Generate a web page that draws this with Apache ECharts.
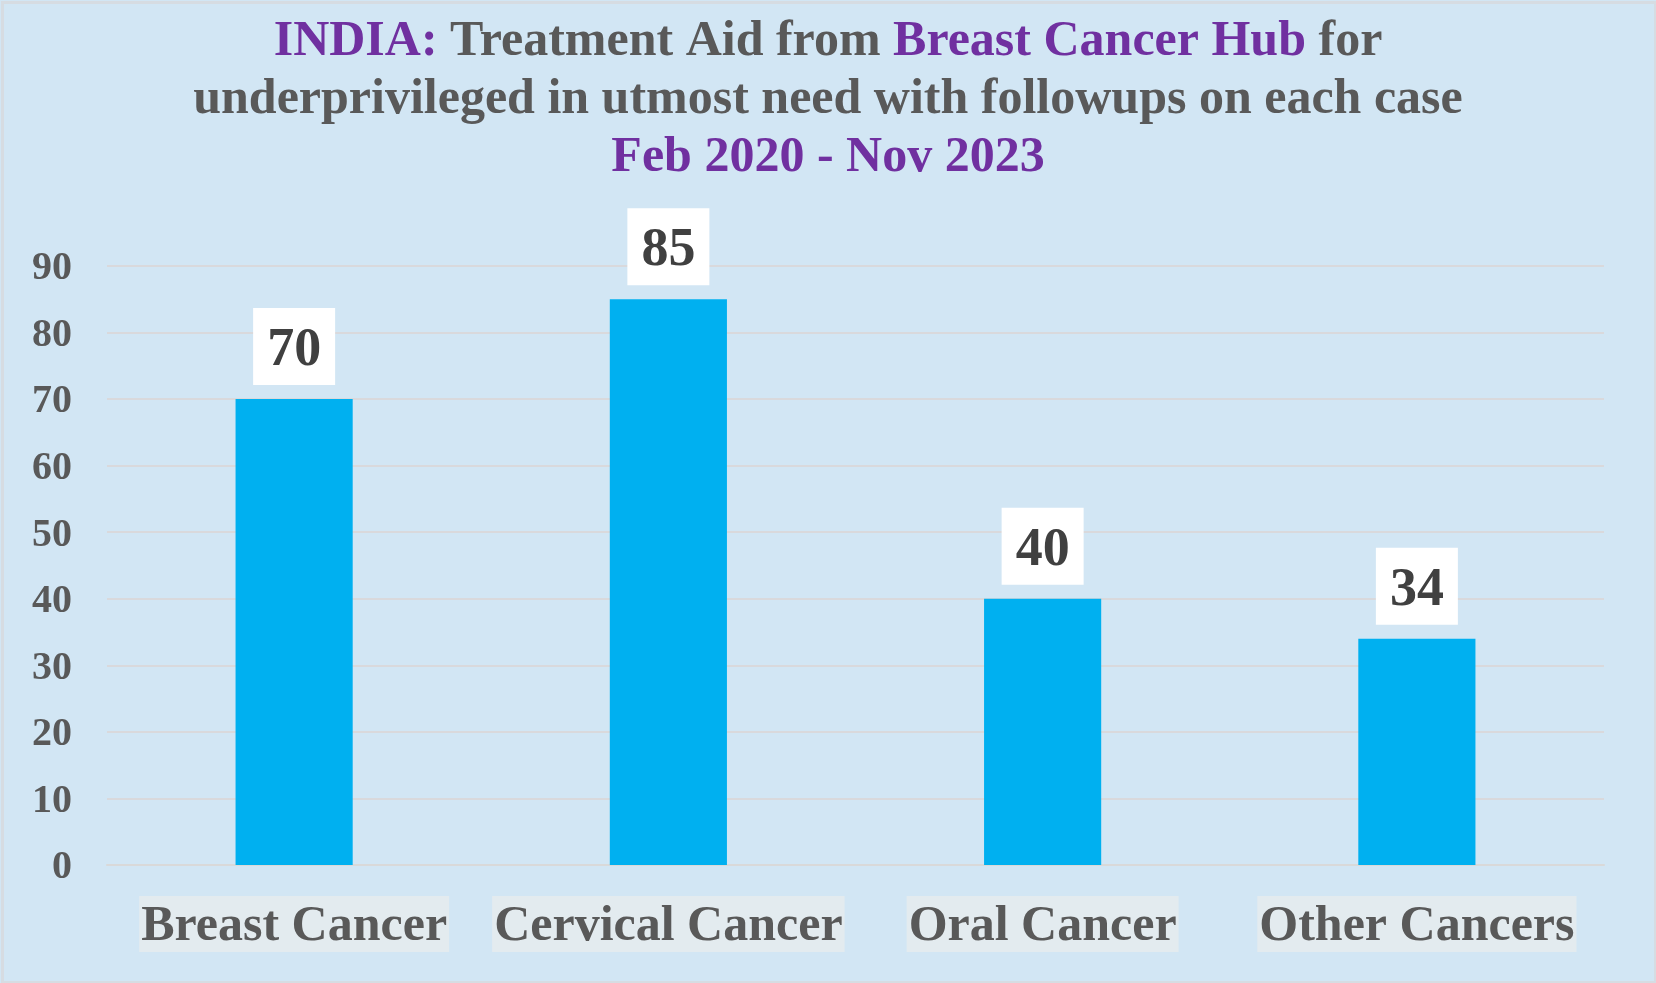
<!DOCTYPE html>
<html>
<head>
<meta charset="utf-8">
<script src="https://cdn.jsdelivr.net/npm/echarts@6/dist/echarts.min.js"></script>
<style>
html,body{margin:0;padding:0;background:#fff;}
#chart{width:1656px;height:983px;}
</style>
</head>
<body>
<div id="chart"></div>
<script>
const categories = ['Breast Cancer', 'Cervical Cancer', 'Oral Cancer', 'Other Cancers'];
const values = [70, 85, 40, 34];
const yTicks = [0, 10, 20, 30, 40, 50, 60, 70, 80, 90];

const FONT = "'Liberation Serif', 'Times New Roman', serif";
const chart = echarts.init(document.getElementById('chart'), null, {renderer: 'canvas'});
chart.setOption({
  backgroundColor: '#D2E6F4',
  animation: false,
  graphic: [{
    type: 'rect', left: 0, top: 0, silent: true, z: -1,
    shape: {x: 1.5, y: 1.5, width: 1653, height: 980},
    style: {fill: 'none', stroke: '#D6DCE2', lineWidth: 3}
  }],
  title: {
    left: 'center', top: 8,
    text: '{p|INDIA:} Treatment Aid from {p|Breast Cancer Hub} for\nunderprivileged in utmost need with followups on each case\n{p|Feb 2020 - Nov 2023}',
    textStyle: {
      fontFamily: FONT, fontSize: 50, fontWeight: 'bold', color: '#595959', lineHeight: 58,
      rich: {
        p: {fontFamily: FONT, fontSize: 50, fontWeight: 'bold', color: '#7030A0', lineHeight: 58}
      }
    }
  },
  grid: {left: 107, right: 52, top: 266, bottom: 118, containLabel: false},
  xAxis: {
    type: 'category', data: categories,
    axisLine: {show: true, lineStyle: {color: '#D9D9D9', width: 2}},
    axisTick: {show: false},
    axisLabel: {
      margin: 31, fontFamily: FONT, fontSize: 50, fontWeight: 'bold', color: '#595959',
      backgroundColor: '#E3EBEF', padding: [7, 2, 0, 2], lineHeight: 49, interval: 0
    }
  },
  yAxis: {
    type: 'value', min: yTicks[0], max: yTicks[yTicks.length - 1], interval: 10,
    axisLine: {show: false}, axisTick: {show: false},
    splitLine: {lineStyle: {color: '#D9D9DC', width: 2}},
    axisLabel: {
      margin: 35, color: '#595959',
      formatter: '{v|{value}}',
      rich: {v: {fontFamily: FONT, fontSize: 40, fontWeight: 'bold', color: '#595959', padding: [6, 0, 0, 0]}}
    }
  },
  series: [{
    type: 'bar', data: values, barWidth: '31.3%',
    itemStyle: {color: '#00B0F0'},
    label: {
      show: true, position: 'top', distance: 14,
      fontFamily: FONT, fontSize: 54, fontWeight: 'bold', color: '#404040',
      backgroundColor: '#FFFFFF', padding: [15, 14, 6, 14], lineHeight: 56
    }
  }]
});
</script>
</body>
</html>
